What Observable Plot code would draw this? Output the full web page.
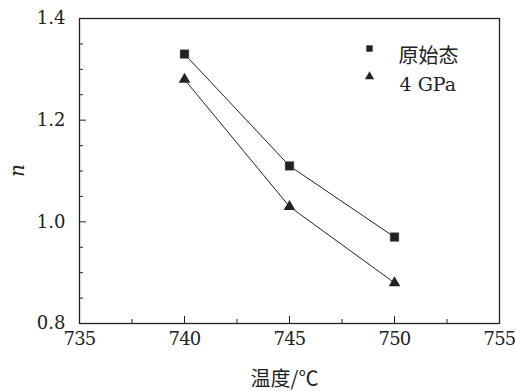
<!DOCTYPE html>
<html>
<head>
<meta charset="utf-8">
<script src="https://cdn.jsdelivr.net/npm/d3@7"></script>
<script src="https://cdn.jsdelivr.net/npm/@observablehq/plot@0.6"></script>
<style>
  html, body { margin: 0; padding: 0; background: #fff; }
  #chart svg, #chart svg text { font-family: "DejaVu Serif", "Noto Sans CJK SC", serif !important; }
  #chart svg .cjk text, #chart svg text.cjk { font-family: "Noto Sans CJK SC", sans-serif !important; }
  #chart svg .xlab text { letter-spacing: -0.8px; }
</style>
</head>
<body>
<div id="chart"></div>
<script>
const temps = [740, 745, 750];
const seriesNames = ["原始态", "4 GPa"];
const original = [1.33, 1.11, 0.97];
const gpa4 = [1.28, 1.03, 0.88];
const xMajor = [735, 740, 745, 750, 755];
const xMinor = [737.5, 742.5, 747.5, 752.5];
const yMajor = [0.8, 1.0, 1.2, 1.4];
const yMinor = [0.85, 0.9, 0.95, 1.05, 1.1, 1.15, 1.25, 1.3, 1.35];
const xLabel = "温度/℃";
const yLabel = "n";

const dOrig = temps.map((t, i) => ({t, n: original[i]}));
const dGpa = temps.map((t, i) => ({t, n: gpa4[i]}));

const fmt = d => d3.format(".1f")(d);

const chart = Plot.plot({
  width: 515,
  height: 391,
  marginLeft: 79,
  marginRight: 16,
  marginTop: 18,
  marginBottom: 68,
  style: {fontSize: "18px", color: "#222"},
  x: {domain: [735, 755]},
  y: {domain: [0.8, 1.4]},
  marks: [
    Plot.frame({stroke: "#222", strokeWidth: 1.3}),
    // inward tick marks
    Plot.axisX({ticks: xMajor, tickSize: -7, tickFormat: () => "", stroke: "#222", label: null}),
    Plot.axisX({ticks: xMinor, tickSize: -4, tickFormat: () => "", stroke: "#222", label: null}),
    Plot.axisY({ticks: yMajor, tickSize: -7, tickFormat: () => "", stroke: "#222", label: null}),
    Plot.axisY({ticks: yMinor, tickSize: -4, tickFormat: () => "", stroke: "#222", label: null}),
    // tick labels
    Plot.axisX({ticks: xMajor, tickSize: 0, tickPadding: 9, tickFormat: d => String(d), fontSize: 18, label: null, className: "xlab"}),
    Plot.axisY({ticks: yMajor, tickSize: 0, tickPadding: 14, tickFormat: fmt, fontSize: 18, label: null}),
    // data
    Plot.line(dOrig, {x: "t", y: "n", stroke: "#222", strokeWidth: 1}),
    Plot.line(dGpa, {x: "t", y: "n", stroke: "#222", strokeWidth: 1}),
    Plot.dot(dOrig, {x: "t", y: "n", symbol: "square", r: 5, fill: "#222", stroke: "#888", strokeWidth: 0.5}),
    Plot.dot(dGpa, {x: "t", y: "n", symbol: "triangle", r: 4.3, fill: "#222"}),
    // legend
    Plot.dot([seriesNames[0]], {frameAnchor: "top-left", dx: 290, dy: 30, symbol: "square", r: 3.6, fill: "#222"}),
    Plot.dot([seriesNames[1]], {frameAnchor: "top-left", dx: 290, dy: 58, symbol: "triangle", r: 3.4, fill: "#222"}),
    Plot.text([seriesNames[0]], {frameAnchor: "top-left", dx: 319, dy: 30, text: d => d, textAnchor: "start", fontSize: 20, fill: "#222", className: "cjk"}),
    Plot.text([seriesNames[1]], {frameAnchor: "top-left", dx: 320, dy: 59, text: d => d, textAnchor: "start", fontSize: 19, fill: "#222"}),
    // axis titles
    Plot.text([yLabel], {frameAnchor: "left", dx: -62, dy: 6, text: d => d, rotate: -90, fontStyle: "italic", fontSize: 20, fill: "#222"}),
    Plot.text([xLabel], {frameAnchor: "bottom", dx: -5, dy: 62, text: d => d, fontSize: 20, fill: "#222", className: "cjk"})
  ]
});
document.getElementById("chart").appendChild(chart);
</script>
</body>
</html>
